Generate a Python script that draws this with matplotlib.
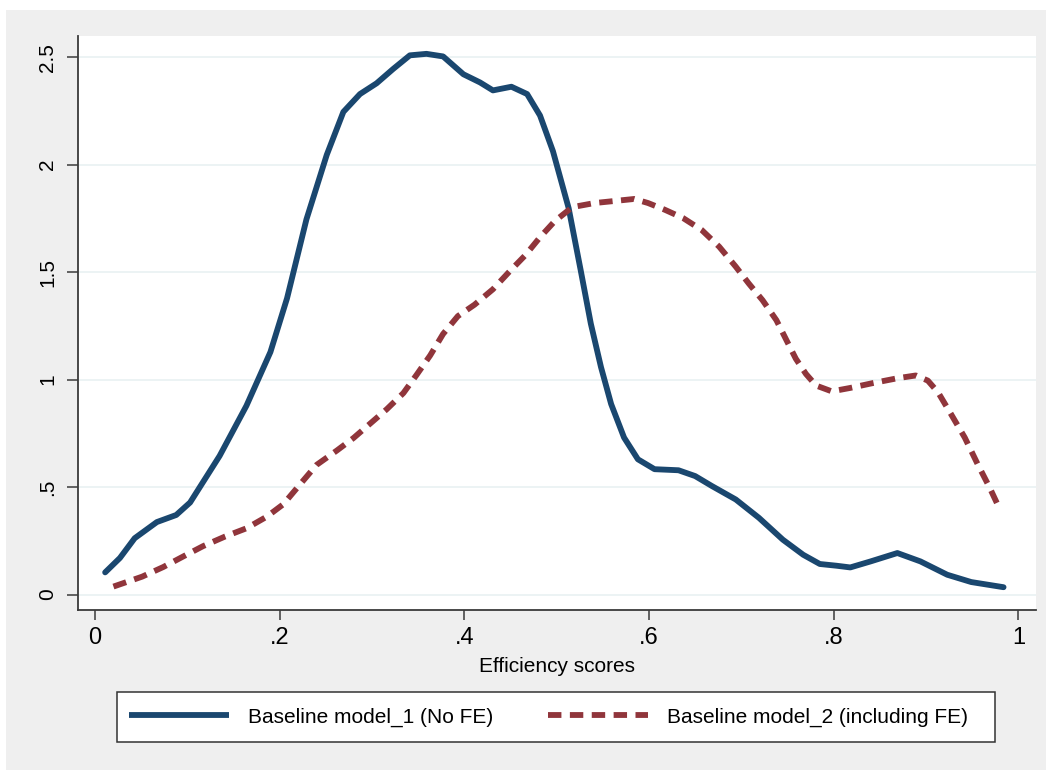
import numpy as np
import matplotlib.pyplot as plt
from matplotlib.patches import Rectangle
from matplotlib.lines import Line2D

plt.rcParams['font.family'] = ['Liberation Sans', 'DejaVu Sans']

# kernel density curves
x_m1 = [0.011, 0.027, 0.043, 0.067, 0.088, 0.103, 0.135, 0.164, 0.190, 0.208,
        0.229, 0.251, 0.269, 0.287, 0.305, 0.323, 0.341, 0.359, 0.377, 0.399,
        0.417, 0.431, 0.451, 0.468, 0.482, 0.496, 0.513, 0.526, 0.537, 0.548,
        0.559, 0.573, 0.588, 0.606, 0.632, 0.650, 0.668, 0.694, 0.719, 0.745,
        0.767, 0.785, 0.803, 0.818, 0.840, 0.869, 0.894, 0.923, 0.949, 0.984]
y_m1 = [0.103, 0.170, 0.262, 0.337, 0.370, 0.428, 0.645, 0.878, 1.128, 1.378,
        1.745, 2.045, 2.245, 2.328, 2.378, 2.445, 2.508, 2.515, 2.503, 2.420,
        2.382, 2.345, 2.362, 2.328, 2.228, 2.062, 1.797, 1.509, 1.260, 1.058,
        0.886, 0.730, 0.629, 0.583, 0.578, 0.551, 0.505, 0.442, 0.357, 0.255,
        0.185, 0.142, 0.134, 0.126, 0.154, 0.193, 0.154, 0.092, 0.058, 0.034]

x_m2 = [0.020, 0.051, 0.074, 0.096, 0.117, 0.141, 0.164, 0.186, 0.204, 0.222,
        0.240, 0.262, 0.280, 0.298, 0.316, 0.334, 0.348, 0.363, 0.377, 0.393,
        0.411, 0.431, 0.449, 0.466, 0.482, 0.498, 0.517, 0.541, 0.566, 0.584,
        0.599, 0.617, 0.637, 0.657, 0.676, 0.694, 0.708, 0.723, 0.738, 0.749,
        0.759, 0.770, 0.781, 0.798, 0.818, 0.843, 0.869, 0.889, 0.902, 0.913,
        0.927, 0.942, 0.956, 0.969, 0.980]
y_m2 = [0.037, 0.083, 0.128, 0.178, 0.225, 0.270, 0.308, 0.362, 0.420, 0.512,
        0.603, 0.670, 0.728, 0.795, 0.862, 0.937, 1.020, 1.112, 1.212, 1.295,
        1.348, 1.420, 1.503, 1.578, 1.662, 1.737, 1.802, 1.821, 1.832, 1.840,
        1.821, 1.790, 1.751, 1.696, 1.618, 1.525, 1.447, 1.369, 1.276, 1.182,
        1.097, 1.026, 0.972, 0.945, 0.961, 0.984, 1.006, 1.019, 0.995, 0.941,
        0.840, 0.730, 0.606, 0.497, 0.396]

labels = ['Baseline model_1 (No FE)', 'Baseline model_2 (including FE)']
xticks = [0, 0.2, 0.4, 0.6, 0.8, 1.0]
xticklabels = ['0', '.2', '.4', '.6', '.8', '1']
yticks = [0, 0.5, 1.0, 1.5, 2.0, 2.5]
yticklabels = ['0', '.5', '1', '1.5', '2', '2.5']

navy = '#1a476f'
maroon = '#90353b'
W, H = 1047, 771

fig = plt.figure(figsize=(W / 100, H / 100), dpi=100, facecolor='white')
# stata graph region
fig.patches.append(Rectangle((6 / W, 1 / H), 1040 / W, 760 / H, transform=fig.transFigure,
                             facecolor='#efefef', edgecolor='none', zorder=-10))
# legend box (drawn separately, stata pads the right side more)
fig.patches.append(Rectangle((117 / W, (H - 742) / H), (995 - 117) / W, 50 / H,
                             transform=fig.transFigure, facecolor='white',
                             edgecolor='#333333', lw=1.1, zorder=-5))

ax = fig.add_axes([78 / W, (H - 610) / H, (1035.5 - 78) / W, (610 - 36) / H])
ax.set_facecolor('white')

lw = 4.2
ax.plot(x_m1, y_m1, color=navy, lw=lw, solid_capstyle='round', solid_joinstyle='round', zorder=3)
ax.plot(x_m2, y_m2, color=maroon, lw=lw, dashes=(2.3, 1.45), zorder=3)

ax.set_xlim(-0.0184, 1.0186)
ax.set_ylim(-0.072, 2.598)

for sp in ['top', 'right']:
    ax.spines[sp].set_visible(False)
for sp in ['left', 'bottom']:
    ax.spines[sp].set_color('#3a3a3a')
    ax.spines[sp].set_linewidth(1.3)

ax.set_yticks(yticks)
ax.set_yticklabels(yticklabels, rotation=90, va='center', fontsize=15)
ax.set_xticks(xticks)
ax.set_xticklabels(xticklabels, fontsize=17)
ax.tick_params(axis='y', length=8, width=1.1, color='#3a3a3a', pad=7)
ax.tick_params(axis='x', length=7, width=1.1, color='#3a3a3a', pad=5)
ax.yaxis.grid(True, color='#eaf2f3', lw=1.3)
ax.set_axisbelow(True)

ax.set_xlabel('Efficiency scores', fontsize=15, labelpad=6)

handles = [Line2D([], [], color=navy, lw=lw, solid_capstyle='butt'),
           Line2D([], [], color=maroon, lw=lw, dashes=(2.3, 1.45))]
leg = fig.legend(handles, labels, loc='center left', bbox_to_anchor=(117 / W, (H - 717) / H),
                 ncol=2, fontsize=15, frameon=False, handlelength=4.8,
                 handletextpad=0.9, columnspacing=2.65, borderpad=0.58, borderaxespad=0)

fig.savefig('out.png', dpi=100, facecolor=fig.get_facecolor())
